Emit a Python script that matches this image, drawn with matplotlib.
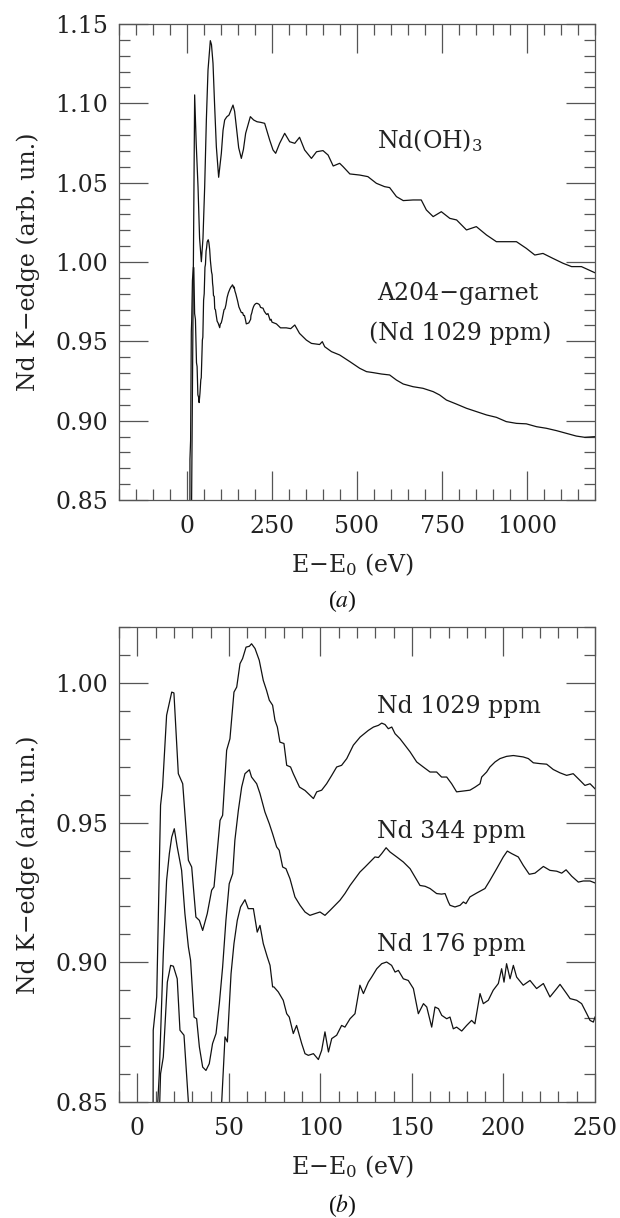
import matplotlib
matplotlib.use('Agg')
import matplotlib.pyplot as plt
from matplotlib.ticker import MultipleLocator, FormatStrFormatter

plt.rcParams['font.family'] = ['DejaVu Serif']
plt.rcParams['mathtext.fontset'] = 'dejavuserif'

# ---------------- Panel (a) data ----------------
ndoh3_x = [12.5, 22.5, 27, 32.4, 37, 42.2, 47, 52, 57, 61.8, 68.6, 72, 76.5, 81, 86.3, 93.1,
           101, 106, 110.8, 117, 123.5, 135.3, 140, 145.1, 152, 159.8, 166, 172.5, 186.3, 196,
           205.9, 217, 228.4, 243.1, 253, 260.8, 272.5, 287.3, 302, 317, 331, 346, 366, 381,
           400, 415, 430, 449, 459, 479, 508, 532, 557, 581, 596, 616, 636, 665, 689, 704,
           724, 748, 773, 793, 822, 851, 881, 910, 969, 998, 1023, 1047, 1076, 1106, 1131,
           1160, 1199]
ndoh3_y = [0.82, 1.1053, 1.075, 1.0475, 1.015, 1.0002, 1.015, 1.0475, 1.09, 1.121, 1.1395, 1.137,
           1.1252, 1.10, 1.0727, 1.0534, 1.0685, 1.083, 1.0895, 1.0915, 1.0926, 1.0989, 1.095,
           1.0853, 1.072, 1.0653, 1.071, 1.0811, 1.0916, 1.0895, 1.0884, 1.0880, 1.0874, 1.0769,
           1.0706, 1.0685, 1.0748, 1.0811, 1.0758, 1.0748, 1.0786, 1.0706, 1.0653, 1.0695,
           1.0702, 1.0674, 1.0605, 1.0622, 1.0601, 1.0555, 1.0548, 1.0538, 1.0496, 1.0475,
           1.0469, 1.0412, 1.0387, 1.0391, 1.0391, 1.0328, 1.0286, 1.0317, 1.0275, 1.0265,
           1.0202, 1.0223, 1.0170, 1.0128, 1.0128, 1.0086, 1.0044, 1.0054, 1.0023, 0.9992,
           0.9971, 0.9971, 0.9933]

# A204-garnet beyond 250 eV (the first 250 eV are the Nd 1029 ppm data of panel b)
garnet_tail_x = [263, 275, 292, 305, 317, 331, 351, 366, 390, 398, 405, 425, 449, 479, 508, 528,
                 547, 572, 596, 616, 636, 665, 694, 724, 743, 763, 792, 822, 851, 881, 910,
                 939, 969, 998, 1028, 1057, 1087, 1116, 1145, 1170, 1199]
garnet_tail_y = [0.9610, 0.9585, 0.9585, 0.9580, 0.9603, 0.9550, 0.9508, 0.9487, 0.9480, 0.9498,
                 0.9466, 0.9435, 0.9414, 0.9372, 0.9330, 0.9309, 0.9303, 0.9294, 0.9288, 0.9256,
                 0.9231, 0.9214, 0.9204, 0.9183, 0.9162, 0.9130, 0.9105, 0.9078, 0.9057, 0.9036,
                 0.9021, 0.8994, 0.8983, 0.8980, 0.8962, 0.8952, 0.8937, 0.8920, 0.8903, 0.8895,
                 0.8899]

# ---------------- Panel (b) data ----------------
nd1029_x = [8.6, 8.7, 10.6, 12.7, 13.8, 16.0, 18.8, 20.0, 22.4, 24.8, 27.9, 29.7, 32.0, 33.9, 35.7,
            38.2, 40.6, 41.9, 45.2, 46.6, 48.8, 50.6, 52.8, 54.3, 56.1, 57.5, 59.4, 61.2, 62.4,
            64.3, 66.6, 68.8, 70.6, 72.1, 73.9, 75.2, 76.5, 77.9, 80.1, 81.6, 83.7, 85.2, 88.6,
            91.6, 94.3, 96.2, 98.0, 100.7, 103.4, 106.2, 108.9, 111.6, 114.4, 118.0, 121.7,
            126.2, 129.0, 131.7, 133.5, 135.3, 137.1, 139.0, 140.8, 143.5, 146.2, 149.0, 152.6,
            156.2, 159.9, 163.5, 166.2, 169.0, 171.7, 174.4, 178.1, 181.7, 184.5, 187.2, 188.1,
            190.8, 192.6, 195.4, 198.1, 201.7, 205.4, 210.8, 213.6, 216.3, 220.0, 223.6, 227.2,
            230.9, 234.5, 238.1, 241.8, 244.5, 247.3, 250.0]
nd1029_y = [0.84, 0.8757, 0.8876, 0.9562, 0.9627, 0.9884, 0.9967, 0.9964, 0.9675, 0.9639, 0.9365,
            0.9341, 0.9162, 0.9150, 0.9114, 0.9174, 0.9258, 0.9270, 0.9508, 0.9526, 0.9759,
            0.9800, 0.9967, 0.9985, 1.0069, 1.0087, 1.0128, 1.0131, 1.0140, 1.0123, 1.0081,
            1.0009, 0.9973, 0.9938, 0.9920, 0.9866, 0.9842, 0.9788, 0.9783, 0.9705, 0.9699,
            0.9675, 0.9627, 0.9615, 0.9598, 0.9586, 0.9610, 0.9616, 0.9639, 0.9669, 0.9699,
            0.9705, 0.9729, 0.9777, 0.9806, 0.9830, 0.9842, 0.9848, 0.9856, 0.9851, 0.9836,
            0.9842, 0.9818, 0.9800, 0.9777, 0.9753, 0.9717, 0.9699, 0.9681, 0.9681, 0.9663,
            0.9663, 0.9639, 0.9610, 0.9613, 0.9616, 0.9627, 0.9639, 0.9663, 0.9681, 0.9699,
            0.9717, 0.9729, 0.9737, 0.9740, 0.9735, 0.9729, 0.9714, 0.9711, 0.9709, 0.9690,
            0.9678, 0.9669, 0.9675, 0.9651, 0.9633, 0.9639, 0.9621]

nd344_x = [10.4, 12.0, 14.2, 16.0, 17.5, 18.8, 20.2, 21.8, 24.2, 26.0, 27.9, 29.1, 31.0, 32.4,
           33.9, 35.7, 37.5, 39.3, 41.1, 43.0, 44.8, 46.6, 48.4, 50.2, 52.1, 53.3, 55.2, 57.0,
           58.8, 61.2, 62.4, 65.2, 67.0, 69.7, 72.1, 73.9, 76.1, 77.5, 79.4, 81.2, 83.4, 86.1,
           88.9, 91.6, 94.3, 97.0, 99.8, 102.5, 105.3, 108.0, 110.7, 113.4, 116.2, 118.9, 121.6,
           124.4, 127.1, 129.8, 131.7, 133.5, 135.9, 138.0, 141.7, 145.3, 149.0, 151.7, 154.4,
           157.2, 159.9, 163.5, 166.2, 168.1, 169.9, 170.8, 173.5, 176.3, 178.1, 179.5, 181.7,
           185.4, 189.9, 192.6, 196.3, 199.9, 202.1, 204.5, 208.1, 210.8, 214.1, 217.2, 221.8,
           225.4, 229.1, 231.8, 234.2, 237.3, 240.9, 243.6, 247.3, 250.0]
nd344_y = [0.84, 0.8601, 0.9031, 0.9293, 0.9389, 0.9448, 0.9478, 0.9413, 0.9329, 0.9174, 0.9055,
           0.9007, 0.8804, 0.8798, 0.8697, 0.8625, 0.8613, 0.8637, 0.8709, 0.8745, 0.8852,
           0.8983, 0.9150, 0.9281, 0.9317, 0.9437, 0.9544, 0.9627, 0.9675, 0.9689, 0.9663,
           0.9639, 0.9604, 0.9538, 0.9496, 0.9460, 0.9413, 0.9401, 0.9341, 0.9335, 0.9299,
           0.9234, 0.9204, 0.9180, 0.9168, 0.9174, 0.9180, 0.9168, 0.9186, 0.9204, 0.9222,
           0.9246, 0.9275, 0.9299, 0.9323, 0.9341, 0.9359, 0.9377, 0.9375, 0.9389, 0.9410,
           0.9395, 0.9377, 0.9359, 0.9335, 0.9305, 0.9275, 0.9272, 0.9264, 0.9246, 0.9244,
           0.9246, 0.9216, 0.9204, 0.9198, 0.9204, 0.9216, 0.9210, 0.9234, 0.9248, 0.9264,
           0.9293, 0.9335, 0.9377, 0.9398, 0.9389, 0.9377, 0.9347, 0.9315, 0.9319, 0.9343,
           0.9329, 0.9326, 0.9319, 0.9331, 0.9308, 0.9287, 0.9291, 0.9291, 0.9284]

nd176_x = [11.8, 12.7, 14.2, 16.4, 18.2, 19.7, 21.8, 23.3, 25.5, 27.9, 37.0, 46.1, 47.9, 49.2,
           51.2, 52.8, 54.6, 56.4, 58.8, 60.6, 63.4, 65.5, 67.0, 68.8, 71.0, 72.5, 73.9, 74.6,
           77.0, 79.7, 81.6, 83.0, 85.2, 87.0, 89.8, 91.6, 93.4, 96.2, 98.9, 100.7, 102.5, 104.4,
           106.2, 108.9, 111.6, 113.4, 116.2, 118.9, 121.6, 123.5, 126.2, 128.0, 130.8, 133.5,
           136.2, 138.9, 140.8, 142.6, 145.3, 148.0, 150.8, 153.5, 156.3, 158.1, 160.8, 162.6,
           164.5, 166.3, 169.0, 170.8, 172.6, 174.4, 177.2, 179.9, 182.6, 184.4, 187.2, 189.0,
           191.7, 194.4, 197.2, 199.0, 200.3, 201.7, 203.6, 205.4, 207.2, 210.8, 214.5, 218.1,
           221.8, 225.4, 229.1, 230.9, 234.5, 236.4, 240.0, 242.7, 245.5, 247.3, 249.1, 250.0]
nd176_y = [0.84, 0.8601, 0.8661, 0.8929, 0.8989, 0.8986, 0.8941, 0.8757, 0.8739, 0.85, 0.80,
           0.85, 0.8733, 0.8715, 0.8959, 0.9067, 0.9150, 0.9198, 0.9224, 0.9192, 0.9192,
           0.9108, 0.9132, 0.9067, 0.9019, 0.8989, 0.8912, 0.8912, 0.8894, 0.8864, 0.8816,
           0.8804, 0.8745, 0.8774, 0.8709, 0.8673, 0.8667, 0.8673, 0.8652, 0.8685, 0.8751,
           0.8679, 0.8727, 0.8739, 0.8774, 0.8768, 0.8798, 0.8816, 0.8918, 0.8888, 0.8929,
           0.8947, 0.8977, 0.8995, 0.9001, 0.8989, 0.8965, 0.8971, 0.8941, 0.8935, 0.8906,
           0.8816, 0.8852, 0.8840, 0.8768, 0.8840, 0.8834, 0.8810, 0.8798, 0.8804, 0.8762,
           0.8768, 0.8754, 0.8774, 0.8792, 0.8780, 0.8888, 0.8852, 0.8864, 0.8900, 0.8924,
           0.8977, 0.8929, 0.8995, 0.8941, 0.8989, 0.8947, 0.8918, 0.8935, 0.8906, 0.8924,
           0.8876, 0.8906, 0.8921, 0.8888, 0.8870, 0.8864, 0.8852, 0.8816, 0.8792, 0.8786,
           0.8804]

# ---------------- Figure ----------------
LC = '#111111'
FC = '#555555'
FS = 17

fig = plt.figure(figsize=(6.2, 12.18), dpi=100)
axA = fig.add_axes([119/620, 1 - 500/1218, 476/620, 476/1218])
axB = fig.add_axes([119/620, 1 - 1102/1218, 476/620, 475/1218])


def style(ax, xmaj, xmin, ymaj, ymin):
    ax.xaxis.set_major_locator(MultipleLocator(xmaj))
    ax.xaxis.set_minor_locator(MultipleLocator(xmin))
    ax.yaxis.set_major_locator(MultipleLocator(ymaj))
    ax.yaxis.set_minor_locator(MultipleLocator(ymin))
    ax.yaxis.set_major_formatter(FormatStrFormatter('%.2f'))
    ax.xaxis.set_major_formatter(FormatStrFormatter('%d'))
    ax.tick_params(which='both', direction='in', top=True, right=True,
                   color=FC, width=0.9, labelsize=FS, labelcolor='#222222')
    ax.tick_params(which='major', length=21)
    ax.tick_params(which='minor', length=8)
    ax.tick_params(axis='x', which='both', pad=11)
    ax.tick_params(axis='y', which='both', pad=8)
    for s in ax.spines.values():
        s.set_color(FC)
        s.set_linewidth(0.9)
    ax.set_xlabel('E−E$_0$ (eV)', fontsize=FS, color='#222222')
    ax.set_ylabel('Nd K−edge (arb. un.)', fontsize=FS, color='#222222')
    ax.yaxis.label.set_verticalalignment('center')
    ax.yaxis.set_label_coords(-0.19, 0.5)
    ax.xaxis.label.set_verticalalignment('center')
    ax.xaxis.set_label_coords(0.49, -0.135)


# Panel (a)
axA.plot(ndoh3_x, ndoh3_y, color=LC, lw=0.9)
axA.plot(nd1029_x + garnet_tail_x, nd1029_y + garnet_tail_y, color=LC, lw=0.9)
axA.set_xlim(-200, 1200)
axA.set_ylim(0.85, 1.15)
style(axA, 250, 50, 0.05, 0.01)
axA.text(559, 1.0717, 'Nd(OH)$_3$', fontsize=FS, color='#222222', ha='left', va='baseline')
axA.text(559, 0.9761, 'A204−garnet', fontsize=FS, color='#222222', ha='left', va='baseline')
axA.text(803, 0.951, '(Nd 1029 ppm)', fontsize=FS, color='#222222', ha='center', va='baseline')

# Panel (b)
axB.plot(nd1029_x, nd1029_y, color=LC, lw=0.9)
axB.plot(nd344_x, nd344_y, color=LC, lw=0.9)
axB.plot(nd176_x, nd176_y, color=LC, lw=0.9)
axB.set_xlim(-10, 250)
axB.set_ylim(0.85, 1.02)
style(axB, 50, 10, 0.05, 0.01)
axB.text(131, 0.9892, 'Nd 1029 ppm', fontsize=FS, color='#222222', ha='left', va='baseline')
axB.text(131, 0.9446, 'Nd 344 ppm', fontsize=FS, color='#222222', ha='left', va='baseline')
axB.text(131, 0.9040, 'Nd 176 ppm', fontsize=FS, color='#222222', ha='left', va='baseline')

fig.text(342/620, 1 - 601/1218, '($a$)', fontsize=17, family='Liberation Serif',
         math_fontfamily='stix', ha='center', va='center', color='#111111')
fig.text(342/620, 1 - 1206/1218, '($b$)', fontsize=17, family='Liberation Serif',
         math_fontfamily='stix', ha='center', va='center', color='#111111')

fig.savefig('out.png', dpi=100)
